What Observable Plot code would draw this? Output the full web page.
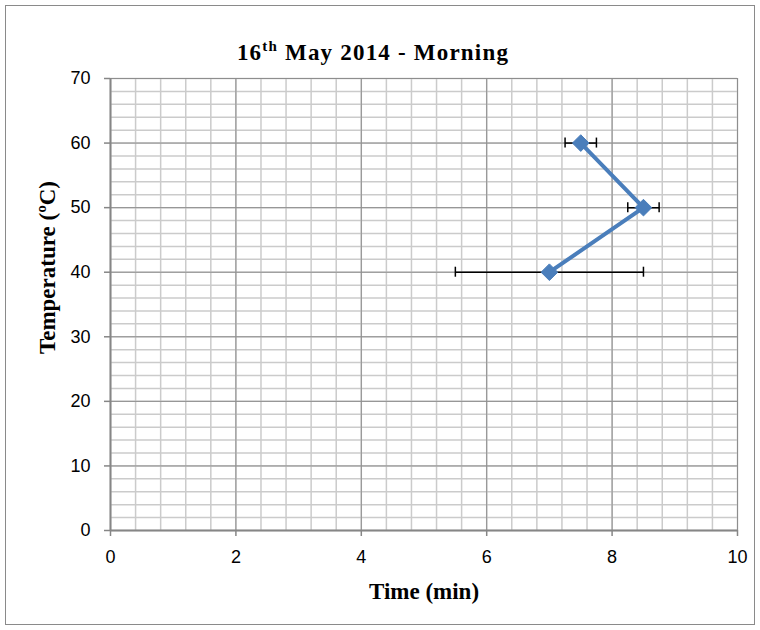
<!DOCTYPE html>
<html>
<head>
<meta charset="utf-8">
<script src="https://cdn.jsdelivr.net/npm/d3@7"></script>
<script src="https://cdn.jsdelivr.net/npm/@observablehq/plot@0.6"></script>
<style>
  body { margin: 0; background: #fff; }
  #chart svg { display: block; outline: 1.5px solid #8a8a8a; outline-offset: -6px; }
</style>
</head>
<body>
<div id="chart"></div>
<script>
// Morning readings: time taken (min) to reach each temperature, with spread
const time = [7.5, 8.5, 7];
const temperature = [60, 50, 40];
const timeError = [0.25, 0.25, 1.5];

// Axis ticks and graph-paper grid
const xTicks = [0, 2, 4, 6, 8, 10];
const yTicks = [0, 10, 20, 30, 40, 50, 60, 70];
const xMinorStep = 0.4;
const yMinorStep = 2;
const xMinor = d3.range(0, 10 + 1e-9, xMinorStep);
const yMinor = d3.range(0, 70 + 1e-9, yMinorStep);

const rows = time.map((t, i) => ({
  time: t,
  temperature: temperature[i],
  lo: t - timeError[i],
  hi: t + timeError[i]
}));

const serif = "'Liberation Serif', 'Times New Roman', serif";
const blue = "#4a7ebb";
const axisGray = "#868686";

const chart = Plot.plot({
  width: 760,
  height: 630,
  marginLeft: 110,
  marginRight: 23,
  marginTop: 78,
  marginBottom: 100,
  style: { fontFamily: "'Liberation Sans', Arial, sans-serif", fontSize: "18px", color: "#000", background: "#fff" },
  x: { domain: [0, 10] },
  y: { domain: [0, 70] },
  marks: [
    // minor grid
    Plot.ruleX(xMinor, { stroke: "#cbcbcb", strokeWidth: 1.5 }),
    Plot.ruleY(yMinor, { stroke: "#cbcbcb", strokeWidth: 1.5 }),
    // major grid
    Plot.ruleX(xTicks, { stroke: "#8e8e8e", strokeWidth: 1 }),
    Plot.ruleY(yTicks, { stroke: "#8e8e8e", strokeWidth: 1 }),
    // axes
    Plot.axisX({ ticks: xTicks, tickSize: 6, tickPadding: 14, label: null, stroke: axisGray, strokeWidth: 1.5, tickFormat: d3.format("d") }),
    Plot.axisY({ ticks: yTicks, tickSize: 6, tickPadding: 14, label: null, stroke: axisGray, strokeWidth: 1.5, tickFormat: d3.format("d") }),
    Plot.ruleX([0], { stroke: axisGray, strokeWidth: 2 }),
    Plot.ruleY([0], { stroke: axisGray, strokeWidth: 2 }),
    // horizontal error bars with end caps
    Plot.link(rows, { x1: "lo", x2: "hi", y1: "temperature", y2: "temperature", stroke: "#000", strokeWidth: 1.5 }),
    Plot.ruleX(rows, { x: "lo", y1: "temperature", y2: "temperature", insetTop: -5, insetBottom: -5, stroke: "#000", strokeWidth: 1.5 }),
    Plot.ruleX(rows, { x: "hi", y1: "temperature", y2: "temperature", insetTop: -5, insetBottom: -5, stroke: "#000", strokeWidth: 1.5 }),
    // series
    Plot.line(rows, { x: "time", y: "temperature", stroke: blue, strokeWidth: 4 }),
    Plot.dot(rows, { x: "time", y: "temperature", symbol: "diamond2", r: 7.5, fill: blue, stroke: blue, strokeWidth: 1 }),
    // axis titles
    Plot.text(["Time (min)"], { frameAnchor: "bottom", dy: 68, fontFamily: serif, fontWeight: "bold", fontSize: 23, letterSpacing: 2, lineAnchor: "bottom" }),
    Plot.text(["Temperature (ºC)"], { frameAnchor: "left", dx: -63, dy: -37, rotate: -90, textAnchor: "middle", lineAnchor: "middle", fontFamily: serif, fontWeight: "bold", fontSize: 23, letterSpacing: 1.3 })
  ]
});

// Chart title with superscript ordinal
const svg = d3.select(chart);
const title = svg.append("text")
  .attr("x", 373)
  .attr("y", 60)
  .attr("text-anchor", "middle")
  .attr("font-family", serif)
  .attr("font-weight", "bold")
  .attr("font-size", 23)
  .attr("letter-spacing", 1.2)
  .attr("fill", "#000");
title.append("tspan").text("16");
title.append("tspan").attr("font-size", 15).attr("dy", -9).text("th");
title.append("tspan").attr("dy", 9).text(" May 2014 - Morning");

document.getElementById("chart").append(chart);
</script>
</body>
</html>
